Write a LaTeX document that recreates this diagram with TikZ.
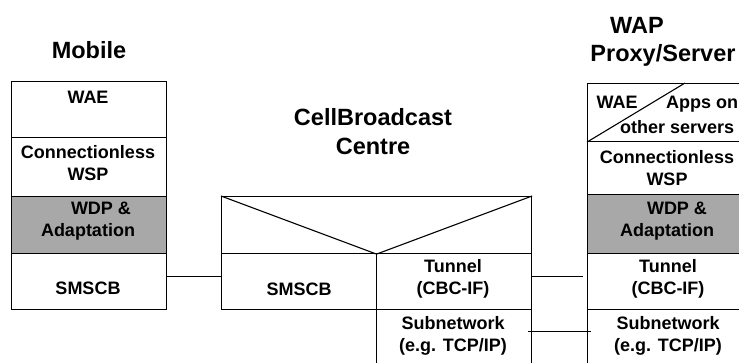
\documentclass[tikz,border=0pt]{standalone}
\usepackage{fontspec}
\setmainfont{Liberation Sans}
\definecolor{wdpgray}{HTML}{A8A8A8}
\begin{document}
\begin{tikzpicture}[x=1pt,y=-1pt,
  cell/.style={draw, line width=1.1pt, inner sep=0pt, anchor=north west},
  gray cell/.style={cell, fill=wdpgray},
  txt/.style={font=\fontsize{18}{22}\selectfont\bfseries, align=center, inner sep=0pt},
  head/.style={font=\fontsize{23.5}{29}\selectfont\bfseries, align=center, inner sep=0pt},
  conn/.style={line width=1pt},
  diag/.style={line width=1.1pt}]
\useasboundingbox (0,0) rectangle (739,363);
\clip (0,0) rectangle (739,363);

% ---------- Mobile stack ----------
\node[cell, minimum width=155pt, minimum height=56pt] (mWAE) at (11,81) {};
\node[cell, minimum width=155pt, minimum height=59pt] (mWSP) at (11,137) {};
\node[gray cell, minimum width=155pt, minimum height=57pt] (mWDP) at (11,196) {};
\node[cell, minimum width=155pt, minimum height=56pt] (mSM) at (11,253) {};

\node[head] (hMob) at (89,50) {Mobile};
\node[txt] (tmWAE) at (88,97) {WAE};
\node[txt] (tmWSP) at (88,163) {Connectionless\\WSP};
\node[txt] (tmWDP) at (88,221) {\hspace*{26pt}WDP \&\\Adaptation};
\node[txt] (tmSM) at (88,288) {SMSCB};

% ---------- Cell Broadcast Centre ----------
\node[cell, minimum width=310pt, minimum height=57pt] (cTop) at (221,196) {};
\node[cell, minimum width=155pt, minimum height=56pt] (cSM) at (221,253) {};
\node[cell, minimum width=155pt, minimum height=56pt] (cTun) at (376,253) {};
\node[cell, minimum width=155pt, minimum height=70pt] (cSub) at (376,309) {};
\draw[diag] (cTop.north west) -- (cTop.south) -- (cTop.north east);

\node[head] (hCBC) at (373,132) {CellBroadcast\\Centre};
\node[txt] (tcSM) at (299,289) {SMSCB};
\node[txt] (tcTun) at (453,279) {Tunnel\\(CBC-IF)};
\node[txt] (tcSub) at (453,336) {Subnetwork\\(e.g. TCP/IP)};

% ---------- WAP Proxy/Server stack ----------
\node[cell, minimum width=162pt, minimum height=58pt] (wWAE) at (587,83) {};
\node[cell, minimum width=162pt, minimum height=53pt] (wWSP) at (587,141) {};
\node[gray cell, minimum width=162pt, minimum height=59pt] (wWDP) at (587,194) {};
\node[cell, minimum width=162pt, minimum height=56pt] (wTun) at (587,253) {};
\node[cell, minimum width=162pt, minimum height=70pt] (wSub) at (587,309) {};
\draw[diag] (wWAE.south west) -- ([xshift=98pt]wWAE.north west);

\node[head] (hWAP) at (637,25) {WAP};
\node[head] (hProxy) at (663,55) {Proxy/Server};
\node[txt] (twWAE) at (617,102) {WAE};
\node[txt, anchor=west] (twApps) at (666,104) {Apps on};
\node[txt, anchor=west] (twOther) at (620,127) {other servers};
\node[txt] (twWSP) at (667,168) {Connectionless\\WSP};
\node[txt] (twWDP) at (667,221) {\hspace*{20pt}WDP \&\\Adaptation};
\node[txt] (twTun) at (668,279) {Tunnel\\(CBC-IF)};
\node[txt] (twSub) at (668,336) {Subnetwork\\(e.g. TCP/IP)};

% ---------- connectors ----------
\draw[conn] ([yshift=5pt]mSM.east) -- ([yshift=5pt]cSM.west);
\draw[conn] ([yshift=5pt]cTun.east) -- ([xshift=-4pt,yshift=5pt]wTun.west);
\draw[conn] ([xshift=-4pt]cSub.east |- 0,331.5) -- ([xshift=4pt]wSub.west |- 0,331.5);
\end{tikzpicture}
\end{document}
